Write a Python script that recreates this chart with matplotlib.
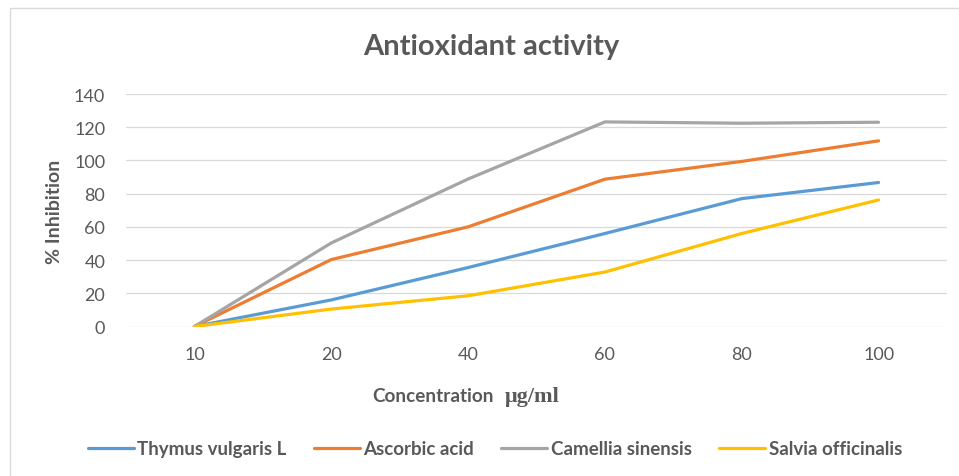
import matplotlib.pyplot as plt
from matplotlib.patches import Rectangle

plt.rcParams['font.family'] = ['Lato', 'DejaVu Sans']

# data
concentrations = ['10', '20', '40', '60', '80', '100']
thymus = [0, 16, 35.5, 56, 77, 86.7]
ascorbic = [0, 40.3, 60, 88.7, 99.4, 111.8]
camellia = [0, 50.3, 88.8, 123.2, 122.4, 123]
salvia = [0, 10.5, 18.5, 32.8, 56, 76.2]

series = [
    ('Thymus vulgaris L', thymus, '#5B9BD5'),
    ('Ascorbic acid', ascorbic, '#ED7D31'),
    ('Camellia sinensis', camellia, '#A5A5A5'),
    ('Salvia officinalis', salvia, '#FFC000'),
]

txt = '#595959'

fig = plt.figure(figsize=(9.59, 4.77), dpi=100)
ax = fig.add_axes([126 / 959, 1 - 327.5 / 477, 821 / 959, 232.5 / 477])

x = range(len(concentrations))
for name, vals, col in series:
    ax.plot(x, vals, color=col, lw=2.3, label=name, solid_capstyle='round')

ax.set_xlim(-0.5, len(concentrations) - 0.5)
ax.set_ylim(0, 140)
ax.set_yticks(range(0, 141, 20))
ax.set_xticks(list(x))
ax.set_xticklabels(concentrations)
ax.grid(axis='y', color='#D9D9D9', lw=0.9)
ax.set_axisbelow(True)
for s in ax.spines.values():
    s.set_visible(False)
ax.tick_params(length=0, labelsize=13, labelcolor=txt)
ax.tick_params(axis='y', pad=15)
ax.tick_params(axis='x', pad=14)

# outer chart border (only top and left visible in the crop)
fig.patches.append(Rectangle((10 / 959, -0.1), 1.2, 1 - 9 / 477 + 0.1,
                             transform=fig.transFigure, fill=False,
                             edgecolor='#D9D9D9', lw=1))

fig.text(491 / 959, 1 - 47 / 477, 'Antioxidant activity', ha='center',
         va='center', fontsize=21, fontweight='bold', color=txt)
fig.text(54 / 959, 1 - 212 / 477, '% Inhibition', rotation=90, ha='center',
         va='center', fontsize=14, fontweight='bold', color=txt)
fig.text(494 / 959, 1 - 397 / 477, 'Concentration', ha='right', va='center',
         fontsize=13.6, fontweight='bold', color=txt)
fig.text(505 / 959, 1 - 397 / 477, 'μg/ml', ha='left', va='center',
         fontsize=16, fontweight='bold', color=txt,
         family=['Liberation Serif', 'DejaVu Serif'])

leg = fig.legend(loc='center', bbox_to_anchor=(495 / 959, 1 - 450 / 477),
                 ncol=4, frameon=False, handlelength=2.45, handletextpad=0.2,
                 columnspacing=1.45, prop={'weight': 'bold', 'size': 13.5})
for t in leg.get_texts():
    t.set_color(txt)

fig.savefig('out.png', dpi=100)
